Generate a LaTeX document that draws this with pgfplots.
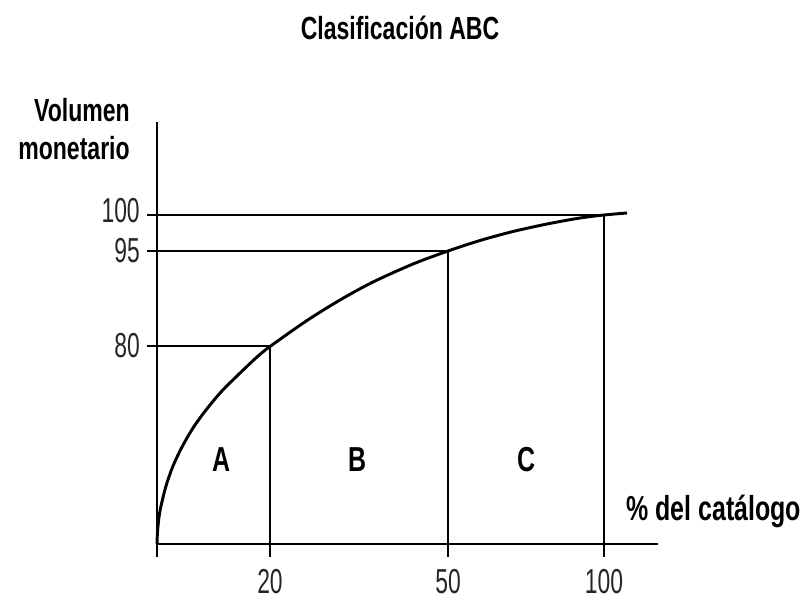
\documentclass[border=0pt]{standalone}
\usepackage{fontspec}
\setmainfont{Liberation Sans}[FakeStretch=0.72]
\newfontfamily\numfont{Liberation Sans}[FakeStretch=0.66]
\usepackage{pgfplots}
\pgfplotsset{compat=1.18}
\newcommand{\lbl}{\bfseries\fontsize{24}{29}\selectfont}
\newcommand{\biglbl}{\bfseries\fontsize{26}{31}\selectfont}
\newcommand{\num}{\numfont\fontsize{26}{31}\selectfont}
\begin{document}
\begin{tikzpicture}
\begin{axis}[
  x=0.75pt, y=0.75pt,
  xmin=0, xmax=501, ymin=0, ymax=422,
  clip=false,
  axis line style={draw=none},
  tick style={draw=none},
  /pgf/number format/assume math mode=true,
  xtick={113,291,447}, xticklabels={20,50,100},
  ytick={198,293}, yticklabels={80,95},
  extra y ticks={329}, extra y tick labels={100},
  extra y tick style={yticklabel style={yshift=3.5pt}},
  tick label style={font=\num, text=black!85},
  xticklabel style={anchor=center, yshift=-28.5pt},
  yticklabel style={anchor=east, inner sep=0pt, xshift=-12.75pt},
]
% axes, drawn past the origin as in the reference
\addplot[black, line width=1.1pt] coordinates {(0,-13) (0,422)};
\addplot[black, line width=1.1pt] coordinates {(0,0) (501,0)};
% reference lines at 80 / 95 / 100
\addplot[black, line width=1pt] coordinates {(-10,198) (113,198)};
\addplot[black, line width=1pt] coordinates {(113,-13) (113,198)};
\addplot[black, line width=1pt] coordinates {(-10,293) (291,293)};
\addplot[black, line width=1pt] coordinates {(291,-13) (291,293)};
\addplot[black, line width=1pt] coordinates {(-10,329) (447,329)};
\addplot[black, line width=1pt] coordinates {(447,-13) (447,329)};
% ABC curve
\addplot[black, line width=2.2pt, smooth, tension=0.5] coordinates {
  (0,0) (0.5,12) (2,27) (4,38) (9,58) (16,78) (25,97) (36,116)
  (49,134) (64,152) (81,169) (100,187) (113,197.5) (150,223.5)
  (183,244) (216,262) (256,280) (291,293) (323,303.5) (356,312.5)
  (390,320) (423,326) (447,329) (470,331)
};
% texts
\node[font=\lbl] at (axis cs:243,516) {Clasificación ABC};
\node[font=\lbl, anchor=east, inner sep=0pt] at (axis cs:-27,434) {Volumen};
\node[font=\lbl, anchor=east, inner sep=0pt] at (axis cs:-27,396) {monetario};
\node[font=\biglbl] at (axis cs:65,84) {A};
\node[font=\biglbl] at (axis cs:201,84) {B};
\node[font=\biglbl] at (axis cs:370,84) {C};
\node[font=\biglbl, anchor=west, inner sep=0pt] at (axis cs:469,33) {\% del catálogo};
% page frame
\path (axis cs:-157,-64) rectangle (axis cs:648,544);
\end{axis}
\end{tikzpicture}
\end{document}
